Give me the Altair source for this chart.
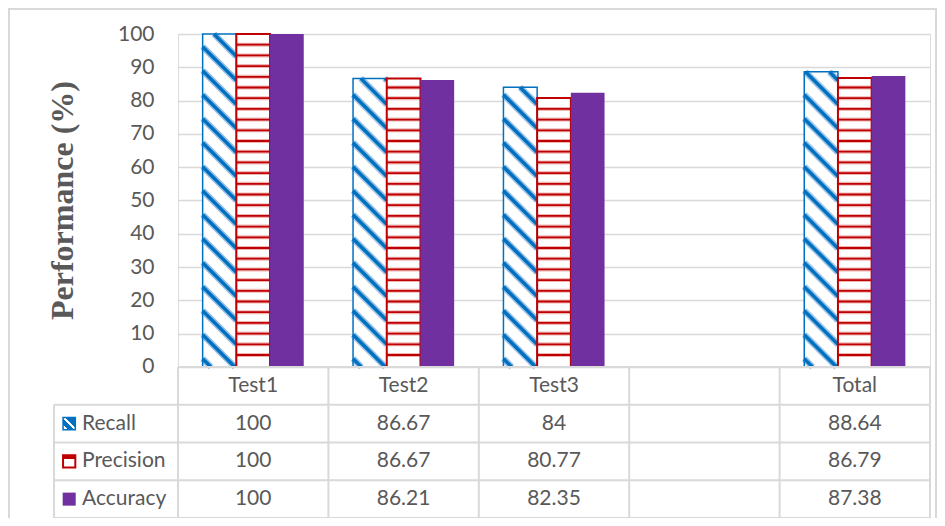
import altair as alt
import pandas as pd

# ---------------- data ----------------
categories = ["Test1", "Test2", "Test3", "", "Total"]
series = ["Recall", "Precision", "Accuracy"]
recall = [100, 86.67, 84, None, 88.64]
precision = [100, 86.67, 80.77, None, 86.79]
accuracy = [100, 86.21, 82.35, None, 87.38]
y_ticks = [0, 10, 20, 30, 40, 50, 60, 70, 80, 90, 100]

# ---------------- layout / style constants ----------------
W, H = 752, 484
Y_MAX = 100
Y_MIN = -45.35                      # room below zero for the data table
PXX = W / len(categories)           # px per category slot
PXY = H / (Y_MAX - Y_MIN)           # px per y unit
BW = 33.7 / PXX                     # bar width (x units)
RH = (0 - Y_MIN) / 4                # table row height (y units)
XL = -124 / PXX                     # left edge of the legend column
D = BW * PXX / PXY                  # 45 deg drop across one bar (y units)
P_DIAG = 24 / PXY                   # vertical period of diagonal hatch
P_HOR = 10.7 / PXY                  # period of horizontal stripes

GRAY = "#595959"
GRID = "#D9D9D9"
BLUE = "#0070C0"
RED = "#C00000"
PURPLE = "#7030A0"
FONT = "Lato"
FS = 21

rows = []
for i, c in enumerate(categories):
    for j, (s, vals) in enumerate(zip(series, [recall, precision, accuracy])):
        v = vals[i]
        if v is None:
            continue
        rows.append({"cat": c, "ci": i, "series": s, "si": j, "value": v})
df = pd.DataFrame(rows)

xscale = alt.Scale(domain=[0, len(categories)], nice=False, zero=False)
yscale = alt.Scale(domain=[Y_MIN, Y_MAX], nice=False, zero=False)
yaxis = alt.Axis(
    values=y_ticks, title="Performance (%)", grid=True, gridColor=GRID,
    gridWidth=1.5, domain=False, ticks=False, tickSize=0, labelPadding=24,
    labelFont=FONT, labelFontSize=FS, labelColor=GRAY,
    titleFont="Liberation Serif", titleFontWeight="bold", titleFontSize=32,
    titleColor=GRAY, titleAngle=270, titleAlign="center",
    titleBaseline="alphabetic", titleX=-106, titleY=166,
)


def X(f):
    return alt.X(f, type="quantitative", scale=xscale, axis=None)


def Y(f):
    return alt.Y(f, type="quantitative", scale=yscale, axis=yaxis)


base = alt.Chart(df).transform_calculate(
    ctr=f"datum.ci + 0.5 + (datum.si - 1) * {BW}",
).transform_calculate(
    xl=f"datum.ctr - {BW / 2}",
    xr=f"datum.ctr + {BW / 2}",
)

def bars(name):
    return base.transform_filter(f"datum.series == '{name}'")

# Recall: white bar + diagonal hatch + blue outline
rec_fill = bars("Recall").mark_bar(fill="white", strokeWidth=0).encode(
    x=X("xl"), x2="xr", y=Y("value"), y2=alt.datum(0))

diag = bars("Recall").transform_calculate(
    ys=f"sequence(2.5, datum.value + {D}, {P_DIAG})"
).transform_flatten(["ys"]).transform_filter(
    f"datum.ys > 0 && datum.ys - {D} < datum.value"
).transform_calculate(
    sx=f"datum.ys > datum.value ? datum.xl + (datum.ys - datum.value) / {D} * {BW} : datum.xl",
    sy="min(datum.ys, datum.value)",
    ex=f"datum.ys - {D} < 0 ? datum.xl + datum.ys / {D} * {BW} : datum.xr",
    ey=f"max(datum.ys - {D}, 0)",
)
diag_halo = diag.mark_rule(color="#9DC3E6", strokeWidth=6.5).encode(
    x=X("sx"), x2="ex", y=Y("sy"), y2="ey")
diag_core = diag.mark_rule(color=BLUE, strokeWidth=3.5).encode(
    x=X("sx"), x2="ex", y=Y("sy"), y2="ey")
rec_line = bars("Recall").mark_bar(fillOpacity=0, stroke=BLUE, strokeWidth=1.5).encode(
    x=X("xl"), x2="xr", y=Y("value"), y2=alt.datum(0))

# Precision: white bar + horizontal stripes + red outline
pre_fill = bars("Precision").mark_bar(fill="white", strokeWidth=0).encode(
    x=X("xl"), x2="xr", y=Y("value"), y2=alt.datum(0))
hor = bars("Precision").transform_calculate(
    hs=f"sequence(3.6, datum.value - 1, {P_HOR})"
).transform_flatten(["hs"])
hor_halo = hor.mark_rule(color="#EDB5B5", strokeWidth=4).encode(
    x=X("xl"), x2="xr", y=Y("hs"))
hor_core = hor.mark_rule(color=RED, strokeWidth=1.8).encode(
    x=X("xl"), x2="xr", y=Y("hs"))
pre_line = bars("Precision").mark_bar(fillOpacity=0, stroke=RED, strokeWidth=2).encode(
    x=X("xl"), x2="xr", y=Y("value"), y2=alt.datum(0))

# Accuracy: solid purple
acc = bars("Accuracy").mark_bar(fill=PURPLE, strokeWidth=0).encode(
    x=X("xl"), x2="xr", y=Y("value"), y2=alt.datum(0))

# ---------------- data table ----------------
ncat = len(categories)
hlines = pd.DataFrame(
    [{"x0": 0, "x1": ncat, "y": 0}]
    + [{"x0": XL, "x1": ncat, "y": -RH * k} for k in range(1, 5)]
)
vlines = pd.DataFrame(
    [{"x": float(i), "y0": 0, "y1": -4 * RH} for i in range(ncat + 1)]
    + [{"x": XL, "y0": -RH, "y1": -4 * RH}]
)
hl = alt.Chart(hlines).mark_rule(color=GRID, strokeWidth=2).encode(
    x=X("x0"), x2="x1", y=Y("y"))
vl = alt.Chart(vlines).mark_rule(color=GRID, strokeWidth=2).encode(
    x=X("x"), y=Y("y0"), y2="y1")

hdr = alt.Chart(pd.DataFrame({"cat": categories, "ci": list(range(ncat))})).transform_calculate(
    cx="datum.ci + 0.5", cy=f"{-RH / 2}"
).mark_text(font=FONT, fontSize=FS, color=GRAY).encode(
    x=X("cx"), y=Y("cy"), text="cat:N")

cells = alt.Chart(df).transform_calculate(
    cx="datum.ci + 0.5", cy=f"-(datum.si + 1.5) * {RH}"
).mark_text(font=FONT, fontSize=FS, color=GRAY).encode(
    x=X("cx"), y=Y("cy"), text=alt.Text("value:Q"))

leg_df = pd.DataFrame({"series": series, "si": list(range(len(series)))})
leg_base = alt.Chart(leg_df).transform_calculate(
    lx=f"{XL + 0.186}", sx=f"{XL + 0.101}", cy=f"-(datum.si + 1.5) * {RH}"
)
leg_text = leg_base.mark_text(font=FONT, fontSize=FS, color=GRAY, align="left").encode(
    x=X("lx"), y=Y("cy"), text="series:N")

rec_grad = alt.LinearGradient(
    gradient="linear", x1=0, y1=1, x2=1, y2=0,
    stops=[alt.GradientStop(offset=0, color="white"), alt.GradientStop(offset=0.2, color="white"),
           alt.GradientStop(offset=0.2, color=BLUE), alt.GradientStop(offset=0.45, color=BLUE),
           alt.GradientStop(offset=0.45, color="white"), alt.GradientStop(offset=0.58, color="white"),
           alt.GradientStop(offset=0.58, color=BLUE), alt.GradientStop(offset=1, color=BLUE)])
pre_grad = alt.LinearGradient(
    gradient="linear", x1=0, y1=0, x2=0, y2=1,
    stops=[alt.GradientStop(offset=0, color=RED), alt.GradientStop(offset=0.3, color=RED),
           alt.GradientStop(offset=0.3, color="white"), alt.GradientStop(offset=1, color="white")])

sw_rec = leg_base.transform_filter("datum.si == 0").mark_square(
    size=150, fill=rec_grad, opacity=1, stroke=BLUE, strokeWidth=1.5).encode(x=X("sx"), y=Y("cy"))
sw_pre = leg_base.transform_filter("datum.si == 1").mark_square(
    size=150, fill=pre_grad, opacity=1, stroke=RED, strokeWidth=2).encode(x=X("sx"), y=Y("cy"))
sw_acc = leg_base.transform_filter("datum.si == 2").mark_square(
    size=170, fill=PURPLE, opacity=1, strokeWidth=0).encode(x=X("sx"), y=Y("cy"))

# outer chart-area frame (decoration)
frame = alt.Chart(pd.DataFrame({"a": [0]})).mark_rect(
    fill=None, stroke=GRID, strokeWidth=2).encode(
    x=alt.value(-169), x2=alt.value(W + 6), y=alt.value(-25), y2=alt.value(H + 30))

chart = alt.layer(
    frame,
    rec_fill, diag_halo, diag_core, rec_line,
    pre_fill, hor_halo, hor_core, pre_line,
    acc,
    hl, vl, hdr, cells, leg_text, sw_rec, sw_pre, sw_acc,
).properties(
    width=W, height=H,
    autosize=alt.AutoSizeParams(type="none"),
    padding={"left": 170, "top": 26, "right": 7, "bottom": 0},
).configure_view(stroke=None).configure(background="white")

chart.save("out.html", embed_options={"renderer": "svg", "actions": False})
